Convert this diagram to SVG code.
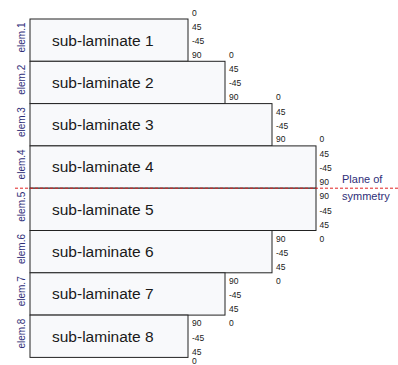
<svg xmlns="http://www.w3.org/2000/svg" width="398" height="365" viewBox="0 0 398 365">
<style>
.box{fill:#f8f9fb;stroke:#222;stroke-width:1}
.lam{font-family:"Liberation Sans",Arial,sans-serif;font-size:15.5px;fill:#1a1a1a}
.elem{font-family:"Liberation Sans",Arial,sans-serif;font-size:10px;fill:#2e2e78;text-anchor:middle}
.ang{font-family:"Liberation Sans",Arial,sans-serif;font-size:8.5px;fill:#1a1a1a}
.sym{font-family:"Liberation Sans",Arial,sans-serif;font-size:11px;fill:#2e2e78}
.plane{stroke:#e02020;stroke-width:1;stroke-dasharray:3,2;fill:none}
</style>
<rect width="398" height="365" fill="#ffffff"/>
<g id="elem1">
<rect class="box" x="30" y="19" width="158" height="42.3"/>
<text class="lam" x="52" y="45.5">sub-laminate 1</text>
<text class="elem" transform="translate(24.5,37.5) rotate(-90)">elem.1</text>
<text class="ang" x="192" y="15.5">0</text><text class="ang" x="192" y="30">45</text><text class="ang" x="192" y="44">-45</text><text class="ang" x="192" y="57.7">90</text>
</g>
<g id="elem2">
<rect class="box" x="30" y="61.3" width="195" height="42.3"/>
<text class="lam" x="52" y="87.8">sub-laminate 2</text>
<text class="elem" transform="translate(24.5,79.8) rotate(-90)">elem.2</text>
<text class="ang" x="229" y="57.8">0</text><text class="ang" x="229" y="72.3">45</text><text class="ang" x="229" y="86.3">-45</text><text class="ang" x="229" y="100">90</text>
</g>
<g id="elem3">
<rect class="box" x="30" y="103.6" width="242" height="42.3"/>
<text class="lam" x="52" y="130.1">sub-laminate 3</text>
<text class="elem" transform="translate(24.5,122.1) rotate(-90)">elem.3</text>
<text class="ang" x="276" y="100.1">0</text><text class="ang" x="276" y="114.6">45</text><text class="ang" x="276" y="128.6">-45</text><text class="ang" x="276" y="142.3">90</text>
</g>
<g id="elem4">
<rect class="box" x="30" y="145.9" width="286" height="42.3"/>
<text class="lam" x="52" y="172.4">sub-laminate 4</text>
<text class="elem" transform="translate(24.5,164.4) rotate(-90)">elem.4</text>
<text class="ang" x="319.5" y="142.4">0</text><text class="ang" x="319.5" y="156.9">45</text><text class="ang" x="319.5" y="170.9">-45</text><text class="ang" x="319.5" y="184.6">90</text>
</g>
<g id="elem5">
<rect class="box" x="30" y="188.2" width="286" height="42.3"/>
<text class="lam" x="52" y="214.7">sub-laminate 5</text>
<text class="elem" transform="translate(24.5,206.7) rotate(-90)">elem.5</text>
<text class="ang" x="319.5" y="199.4">90</text><text class="ang" x="319.5" y="213.6">-45</text><text class="ang" x="319.5" y="227.6">45</text><text class="ang" x="319.5" y="241.6">0</text>
</g>
<g id="elem6">
<rect class="box" x="30" y="230.5" width="242" height="42.3"/>
<text class="lam" x="52" y="257">sub-laminate 6</text>
<text class="elem" transform="translate(24.5,249) rotate(-90)">elem.6</text>
<text class="ang" x="276" y="241.7">90</text><text class="ang" x="276" y="255.9">-45</text><text class="ang" x="276" y="269.9">45</text><text class="ang" x="276" y="283.9">0</text>
</g>
<g id="elem7">
<rect class="box" x="30" y="272.8" width="195" height="42.3"/>
<text class="lam" x="52" y="299.3">sub-laminate 7</text>
<text class="elem" transform="translate(24.5,291.3) rotate(-90)">elem.7</text>
<text class="ang" x="229" y="284">90</text><text class="ang" x="229" y="298.2">-45</text><text class="ang" x="229" y="312.2">45</text><text class="ang" x="229" y="326.2">0</text>
</g>
<g id="elem8">
<rect class="box" x="30" y="315.1" width="158" height="42.3"/>
<text class="lam" x="52" y="341.6">sub-laminate 8</text>
<text class="elem" transform="translate(24.5,333.6) rotate(-90)">elem.8</text>
<text class="ang" x="192" y="326.3">90</text><text class="ang" x="192" y="340.5">-45</text><text class="ang" x="192" y="354.5">45</text><text class="ang" x="192" y="364.3">0</text>
</g>
<g id="connectors">
<line class="plane" x1="15" y1="188.2" x2="398" y2="188.2"/>
</g>
<g id="symmetry-label">
<text class="sym" x="342" y="182.5">Plane of</text>
<text class="sym" x="342" y="199.5">symmetry</text>
</g>
</svg>
